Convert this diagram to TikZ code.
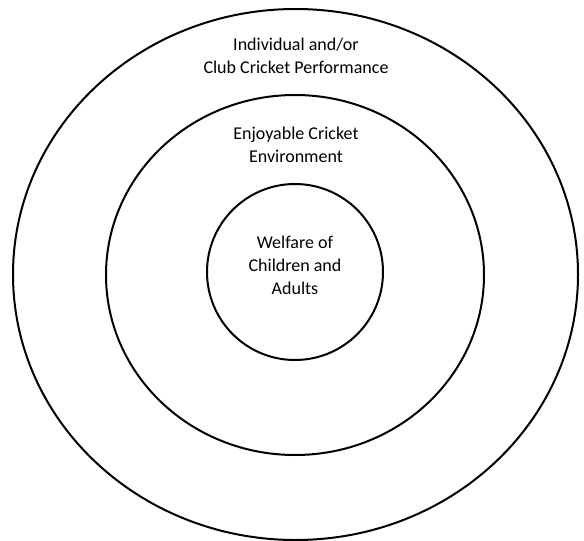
\documentclass[tikz,border=0pt]{standalone}
\usepackage{fontspec}
\setmainfont{Carlito}
\usepackage{tikz}

\begin{document}
\begin{tikzpicture}[x=1pt,y=-1pt,
		ring/.style={line width=2pt},
		lbl/.style={align=center,font=\fontsize{18}{23}\selectfont,inner sep=0pt}]
		\useasboundingbox (0,0) rectangle (584,541);
		\draw[ring] (295.5,274.5) ellipse [x radius=282.5, y radius=265.5];
		\draw[ring] (295,275) ellipse [x radius=189, y radius=180];
		\draw[ring] (295,272) ellipse [x radius=88, y radius=88];
		\node[lbl] (outer) at (296,56) {Individual and/or\\Club Cricket Performance};
		\node[lbl] (middle) at (296,145) {Enjoyable Cricket\\Environment};
		\node[lbl] (inner) at (295,265) {Welfare of\\Children and\\Adults};
\end{tikzpicture}
\end{document}
